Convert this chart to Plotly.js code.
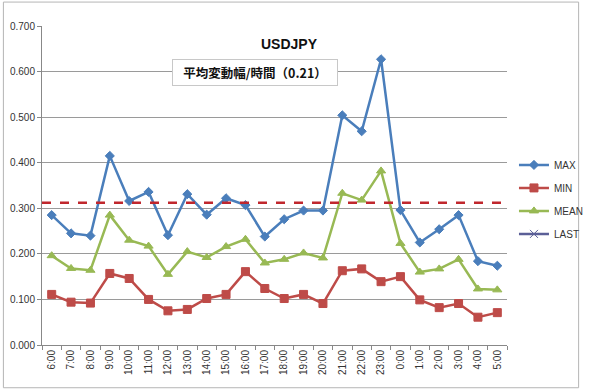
<!DOCTYPE html>
<html>
<head>
<meta charset="utf-8">
<script src="https://cdn.plot.ly/plotly-3.0.1.min.js"></script>
<style>html,body{margin:0;padding:0;background:#fff;}#chart{width:600px;height:391px;}</style>
</head>
<body>
<div id="chart"></div>
<script>
const hours = ["6:00","7:00","8:00","9:00","10:00","11:00","12:00","13:00","14:00","15:00","16:00","17:00","18:00","19:00","20:00","21:00","22:00","23:00","0:00","1:00","2:00","3:00","4:00","5:00"];
const maxVals = [0.285,0.245,0.240,0.415,0.316,0.336,0.241,0.331,0.286,0.322,0.307,0.238,0.276,0.295,0.295,0.504,0.469,0.627,0.296,0.225,0.254,0.285,0.184,0.174];
const minVals = [0.111,0.094,0.092,0.157,0.146,0.100,0.075,0.078,0.102,0.111,0.161,0.124,0.102,0.111,0.091,0.163,0.167,0.139,0.150,0.099,0.082,0.091,0.061,0.071];
const meanVals = [0.196,0.168,0.164,0.285,0.230,0.217,0.155,0.205,0.192,0.216,0.232,0.180,0.188,0.202,0.191,0.333,0.318,0.382,0.223,0.160,0.167,0.188,0.123,0.121];
const lastVals = hours.map(() => null);
const refLevel = 0.312;
const titleText = "USDJPY";
const boxText = "平均変動幅/時間（0.21）";

const font = "Liberation Sans, Arial, sans-serif";
const traces = [
  {name:"MAX", x:hours, y:maxVals, color:"#4A7EBB", symbol:"diamond", size:7, group:"a"},
  {name:"MIN", x:hours, y:minVals, color:"#BE4B48", symbol:"square", size:8, group:"b"},
  {name:"MEAN", x:hours, y:meanVals, color:"#98B954", symbol:"triangle-up", size:8, group:"c"},
  {name:"LAST", x:hours, y:lastVals, color:"#5B5F97", symbol:"x-thin-open", size:8, group:"d"}
].map(t => ({
  type:"scatter", mode:"lines+markers", name:t.name, x:t.x, y:t.y,
  legendgroup:t.group,
  line:{color:t.color, width:2.5},
  marker:{color:t.color, symbol:t.symbol, size:t.size, line:{color:t.color, width:1}},
  connectgaps:false, cliponaxis:false
}));

const layout = {
  width:600, height:391,
  margin:{l:42, r:78, t:26, b:46},
  paper_bgcolor:"#fff", plot_bgcolor:"#fff",
  font:{family:font, size:10, color:"#333"},
  showlegend:true,
  legend:{x:1.015, y:0.61, xanchor:"left", yanchor:"top", font:{size:10, color:"#333"},
          traceorder:"grouped", tracegroupgap:4, itemwidth:30, bgcolor:"rgba(0,0,0,0)"},
  xaxis:{type:"category", tickangle:-90, tickson:"boundaries", ticks:"outside", ticklen:4,
         tickcolor:"#888", showline:true, linecolor:"#888", linewidth:1, showgrid:false,
         tickfont:{size:10, color:"#333"}, range:[-0.5, 23.5], fixedrange:true},
  yaxis:{range:[0, 0.7], dtick:0.1, tickformat:".3f", ticks:"outside", ticklen:4,
         tickcolor:"#888", showline:true, linecolor:"#888", linewidth:1,
         showgrid:true, gridcolor:"#9a9a9a", gridwidth:1, zeroline:false,
         tickfont:{size:10, color:"#333"}, fixedrange:true},
  shapes:[
    {type:"line", xref:"paper", yref:"y", x0:0, x1:1, y0:refLevel, y1:refLevel,
     line:{color:"#C0272D", width:2.5, dash:"dash"}},
    {type:"rect", xref:"paper", yref:"paper", x0:-0.083, x1:1.154, y0:-0.134, y1:1.075,
     line:{color:"#b5b5b5", width:1}, layer:"below"}
  ],
  annotations:[
    {text:"<b>"+titleText+"</b>", xref:"paper", yref:"paper", x:0.532, y:0.945,
     xanchor:"center", yanchor:"middle", showarrow:false, font:{size:14, color:"#111", family:font}},
    {text:"<b>"+boxText+"</b>", xref:"paper", yref:"paper", x:0.459, y:0.853,
     xanchor:"center", yanchor:"middle", showarrow:false,
     font:{size:12.5, color:"#111", family:"Noto Sans CJK JP, sans-serif"},
     bordercolor:"#c8c8c8", borderwidth:1, borderpad:3, bgcolor:"#fff", width:158}
  ]
};

Plotly.newPlot("chart", traces, layout, {displayModeBar:false, staticPlot:true});
</script>
</body>
</html>
